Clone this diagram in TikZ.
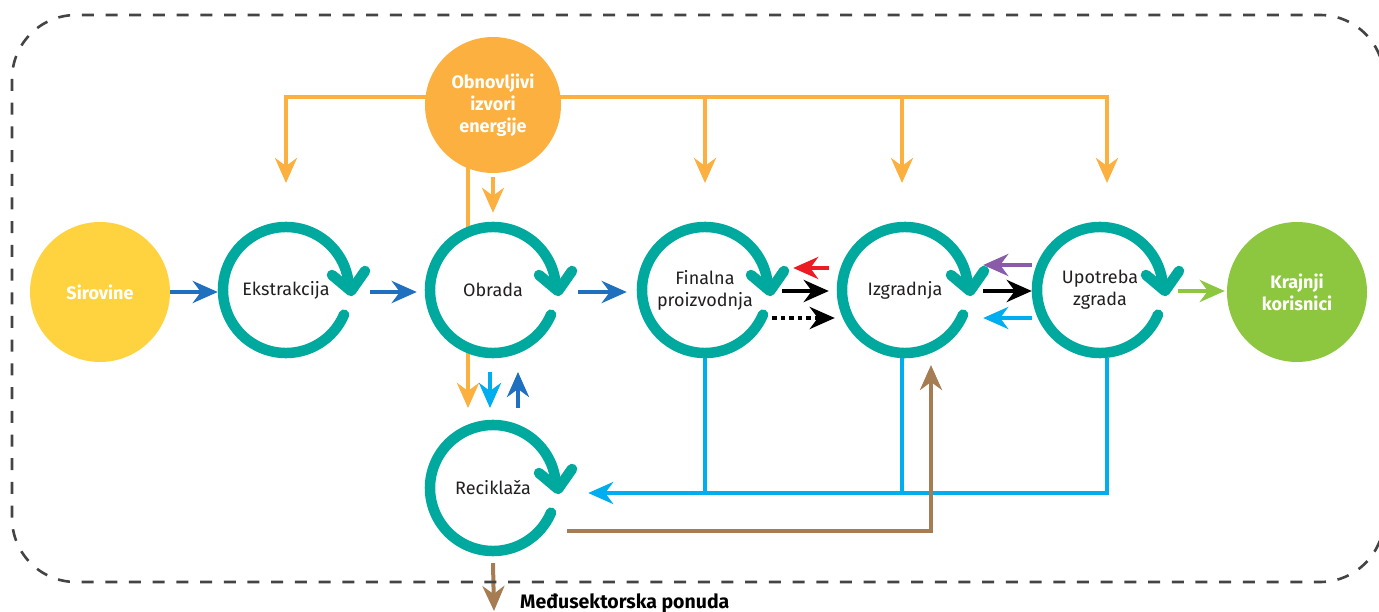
\documentclass[tikz,border=0pt]{standalone}
\usepackage{fontspec}
\setmainfont{Fira Sans}
\usetikzlibrary{arrows.meta,backgrounds,calc}
\definecolor{ringc}{HTML}{00A99D}
\definecolor{yelc}{HTML}{FFD33F}
\definecolor{orac}{HTML}{FBB040}
\definecolor{grnc}{HTML}{8DC63F}
\definecolor{dbluec}{HTML}{1F70BE}
\definecolor{cyanc}{HTML}{00AEEF}
\definecolor{redc}{HTML}{ED1C24}
\definecolor{purc}{HTML}{8A5BA8}
\definecolor{brnc}{HTML}{A67C52}
\definecolor{bordc}{HTML}{444444}
\definecolor{txtc}{HTML}{231F20}
\begin{document}
\begin{tikzpicture}[x=1pt,y=-1pt,
  hd/.style={-{Stealth[length=25pt,width=22pt,inset=8pt]}},
  conn/.style={line width=4.5pt},
  thin conn/.style={line width=4pt},
  proc/.style={circle,fill=white,minimum size=136pt,inner sep=0pt,align=center,text=txtc,font=\fontsize{18}{22}\selectfont},
  endnode/.style={circle,minimum size=140pt,inner sep=0pt,align=center,text=white,font=\bfseries\fontsize{18}{22}\selectfont},
  ring/.pic={
    \draw[ringc,line width=10.5pt,line cap=round] (23:63) arc[start angle=23,end angle=359,radius=63];
    \draw[ringc,line width=10.5pt,line cap=round,line join=round] (46,-15) -- (65,1) -- (79,-19);
  }]
\useasboundingbox (0,0) rectangle (1379,612);
% border
\draw[bordc,line width=2.6pt,dash pattern=on 12pt off 11.7pt,rounded corners=64pt] (12,15) rectangle (1384,582);

% nodes
\node[endnode,fill=yelc] (sir) at (100,292) {Sirovine};
\node[endnode,fill=grnc] (kraj) at (1297,292) {Krajnji\\korisnici};
\node[endnode,fill=orac,minimum size=136pt] (obn) at (493,105) {Obnovljivi\\izvori\\energije};
\node[proc] (ekst) at (286,290) {Ekstrakcija};
\node[proc] (obr) at (493,290) {Obrada};
\node[proc] (fin) at (705,290) {Finalna\\proizvodnja};
\node[proc] (izg) at (905,290) {Izgradnja};
\node[proc] (upo) at (1100,290) {Upotreba\\zgrada};
\node[proc] (rec) at (493,488) {Reciklaža};
\node[anchor=west,text=black,font=\bfseries\fontsize{19.5}{22}\selectfont,inner sep=0pt] (med) at (520,603) {Međusektorska ponuda};

\pic at (ekst) {ring};
\pic at (obr) {ring};
\pic at (fin) {ring};
\pic at (izg) {ring};
\pic at (upo) {ring};
\pic at (rec) {ring};

% free-end coordinates
\coordinate (oE) at (286,183);
\coordinate (oF) at (705,183);
\coordinate (oI) at (902,183);
\coordinate (oU) at (1107,183);
\coordinate (oR) at (468,408);
\coordinate (jF) at (705,493);
\coordinate (jI) at (902,493);
\coordinate (jU) at (1107,493);
\coordinate (bC) at (931,531);
\coordinate (mArr) at (494,611);

\begin{scope}[on background layer]
% orange distribution
\draw[orac,thin conn] (286,97) -- (1107,97);
\draw[orac,thin conn,hd] (286,95) -- (oE);
\draw[orac,thin conn,hd] (705,97) -- (oF);
\draw[orac,thin conn,hd] (902,97) -- (oI);
\draw[orac,thin conn,hd] (1107,95) -- (oU);
\draw[orac,thin conn,hd] ($(obn.south)+(0,4)$) -- ($(obr.north)+(0,-9)$);
\draw[orac,thin conn,hd] (468,150) -- (oR);
% main chain
\draw[dbluec,conn,hd] (sir.east) -- (sir.east -| ekst.west);
\draw[dbluec,conn,hd,shorten <=16pt,shorten >=8pt] ($(ekst.east)+(0,2)$) -- ($(obr.west)+(0,2)$);
\draw[dbluec,conn,hd,shorten <=17pt,shorten >=10pt] ($(obr.east)+(0,2)$) -- ($(fin.west)+(0,2)$);
\draw[black,conn,hd,shorten <=9pt,shorten >=8pt] ($(fin.east)+(0,1)$) -- ($(izg.west)+(0,1)$);
\draw[black,conn,hd,dash pattern=on 4.5pt off 4pt,shorten <=-1pt,shorten >=2pt] ($(fin.east)+(0,28)$) -- ($(izg.west)+(0,28)$);
\draw[redc,conn,hd,shorten <=8pt,shorten >=20pt] ($(izg.west)+(0,-22)$) -- ($(fin.east)+(0,-22)$);
\draw[black,conn,hd,shorten <=10pt] ($(izg.east)+(0,1)$) -- ($(upo.west)+(0,1)$);
\draw[purc,conn,hd,shorten >=10pt] ($(upo.west)+(0,-25)$) -- ($(izg.east)+(0,-25)$);
\draw[cyanc,conn,hd,shorten >=10pt] ($(upo.west)+(0,28)$) -- ($(izg.east)+(0,28)$);
\draw[grnc,conn,hd,shorten <=10pt,shorten >=2pt] ($(upo.east)+(0,1)$) -- ($(kraj.west)+(0,-1)$);
% obrada <-> reciklaza
\draw[cyanc,thin conn,hd] (490,372) -- (490,408);
\draw[dbluec,thin conn,hd] (518,408) -- (518,372);
% cyan returns
\draw[cyanc,thin conn] (fin.south) -- (jF);
\draw[cyanc,thin conn] (izg.south -| jI) -- (jI);
\draw[cyanc,thin conn,hd] (upo.south -| jU) -- (jU) -- ($(rec.east |- jU)+(27,0)$);
% brown
\draw[brnc,thin conn,hd] ($(rec.east |- bC)+(6,0)$) -- (bC) -- (931,365);
\draw[brnc,thin conn,hd] ($(rec.south)+(0,7)$) -- (mArr);
\end{scope}
\end{tikzpicture}
\end{document}
